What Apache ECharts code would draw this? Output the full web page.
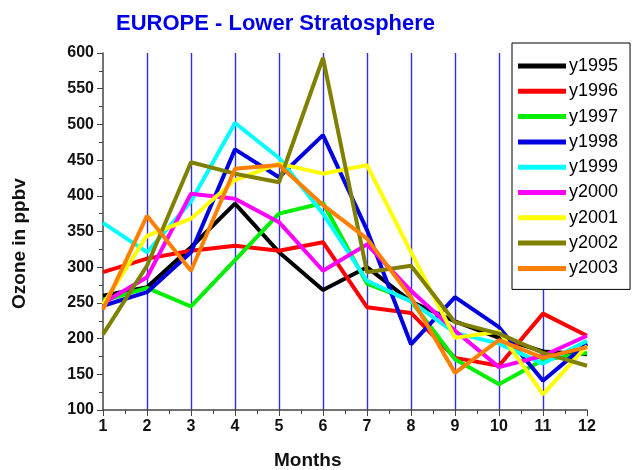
<!DOCTYPE html>
<html>
<head>
<meta charset="utf-8">
<script src="https://cdn.jsdelivr.net/npm/echarts@6/dist/echarts.min.js"></script>
<style>
html,body{margin:0;padding:0;background:#fff;}
#chart{width:635px;height:470px;}
</style>
</head>
<body>
<div id="chart"></div>
<script>
const months = [1,2,3,4,5,6,7,8,9,10,11,12];
const seriesNames = ['y1995','y1996','y1997','y1998','y1999','y2000','y2001','y2002','y2003'];
const y1995 = [260, 272, 328, 389, 321, 268, 300, 252, 224, 201, 182, 178];
const y1996 = [293, 312, 323, 330, 323, 335, 244, 236, 173, 162, 235, 204];
const y1997 = [253, 271, 245, 310, 375, 390, 277, 253, 171, 136, 170, 180];
const y1998 = [246, 265, 321, 465, 426, 485, 352, 192, 258, 216, 141, 193];
const y1999 = [362, 321, 392, 502, 453, 375, 281, 252, 208, 193, 165, 197];
const y2000 = [250, 286, 403, 396, 363, 295, 332, 267, 211, 160, 176, 204];
const y2001 = [248, 344, 368, 422, 445, 431, 443, 321, 201, 210, 122, 190];
const y2002 = [206, 302, 447, 431, 419, 593, 293, 302, 223, 207, 180, 162];
const y2003 = [241, 372, 295, 438, 443, 387, 340, 258, 152, 198, 173, 188];
const yTicks = [100,150,200,250,300,350,400,450,500,550,600];

const allData = [y1995,y1996,y1997,y1998,y1999,y2000,y2001,y2002,y2003];
const colors = ['#000000','#ff0000','#00ee00','#0000e0','#00ffff','#ff00ff','#ffff00','#808000','#ff8000'];

const chart = echarts.init(document.getElementById('chart'), null, {renderer:'canvas'});
const font = 'Liberation Sans, Arial, sans-serif';
chart.setOption({
  backgroundColor: '#ffffff',
  animation: false,
  title: {
    text: 'EUROPE - Lower Stratosphere',
    left: 111, top: 8,
    textStyle: {color:'#0000e6', fontSize: 22, fontWeight:'bold', fontFamily: font}
  },
  graphic: [
    {type: 'text', left: 274, top: 451,
     style: {text: 'Months', fontSize: 19, fontWeight: 'bold', fontFamily: font, fill: '#111'}},
    {type: 'text', x: 10, y: 309, rotation: Math.PI / 2,
     style: {text: 'Ozone in ppbv', fontSize: 19, fontWeight: 'bold', fontFamily: font, fill: '#111'}}
  ],
  legend: {
    orient: 'vertical',
    left: 512, top: 43,
    data: seriesNames,
    icon: 'rect',
    itemWidth: 48, itemHeight: 5,
    itemGap: 5.3,
    padding: [13, 12, 11, 6],
    borderColor: '#000', borderWidth: 1,
    backgroundColor: '#fff',
    textStyle: {fontSize: 18, fontFamily: font, color:'#000', lineHeight: 20, padding:[0,0,0,-2]}
  },
  grid: {left: 103, right: 48, top: 53, bottom: 60, containLabel: false},
  xAxis: {
    type: 'value', min: 1, max: 12, interval: 1,
    axisLine: {show: true, onZero: false, lineStyle: {color: '#444', width: 1.5}},
    axisTick: {show: true, length: 6, lineStyle: {color:'#444'}},
    minorTick: {show: true, splitNumber: 2, length: 4, lineStyle: {color:'#444'}},
    axisLabel: {fontSize: 16, fontWeight: 'bold', fontFamily: font, color:'#111', margin: 9},
    splitLine: {show: true, showMinLine: false, showMaxLine: false, lineStyle: {color: '#3030e0', width: 1.4}}
  },
  yAxis: {
    type: 'value', min: 100, max: 600, interval: 50,
    axisLine: {show: true, onZero: false, lineStyle: {color: '#444', width: 1.5}},
    axisTick: {show: true, length: 6, lineStyle: {color:'#444'}},
    minorTick: {show: true, splitNumber: 2, length: 4, lineStyle: {color:'#444'}},
    axisLabel: {fontSize: 16, fontWeight: 'bold', fontFamily: font, color:'#111', margin: 9,
      formatter: v => yTicks.includes(v) ? String(v) : ''},
    splitLine: {show: false}
  },
  series: seriesNames.map((n, i) => ({
    name: n, type: 'line', symbol: 'none',
    data: months.map((m, j) => [m, allData[i][j]]),
    lineStyle: {width: 4, color: colors[i]},
    itemStyle: {color: colors[i]}
  }))
});
</script>
</body>
</html>
